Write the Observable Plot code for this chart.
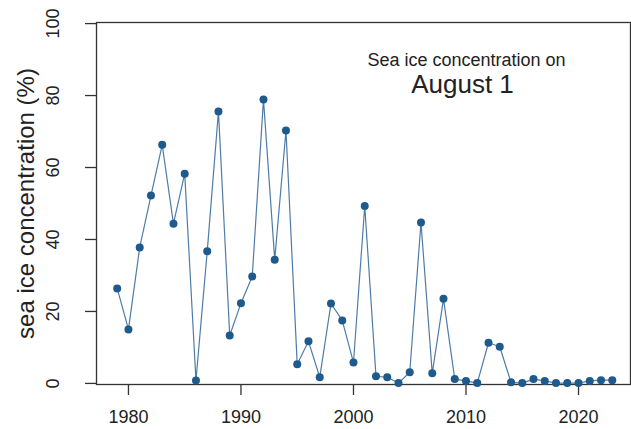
<!DOCTYPE html>
<html>
<head>
<meta charset="utf-8">
<script src="https://cdn.jsdelivr.net/npm/d3@7"></script>
<script src="https://cdn.jsdelivr.net/npm/@observablehq/plot@0.6"></script>
<style>
  html, body { margin: 0; padding: 0; background: #fff; }
  svg { display: block; }
</style>
</head>
<body>
<div id="chart"></div>
<script>
const years = [1979,1980,1981,1982,1983,1984,1985,1986,1987,1988,1989,1990,1991,1992,1993,1994,1995,1996,1997,1998,1999,2000,2001,2002,2003,2004,2005,2006,2007,2008,2009,2010,2011,2012,2013,2014,2015,2016,2017,2018,2019,2020,2021,2022,2023];
const concentration = [26.4,15.0,37.8,52.2,66.3,44.4,58.3,0.8,36.7,75.6,13.3,22.3,29.7,78.9,34.4,70.3,5.3,11.7,1.7,22.2,17.5,5.8,49.3,2.0,1.7,0.1,3.1,44.7,2.8,23.5,1.2,0.7,0.1,11.3,10.2,0.3,0.1,1.2,0.7,0.1,0.1,0.1,0.7,0.9,0.9];
const xTicks = [1980,1990,2000,2010,2020];
const yTicks = [0,20,40,60,80,100];
const yTitle = "sea ice concentration (%)";
const noteLine1 = "Sea ice concentration on";
const noteLine2 = "August 1";

const data = years.map((y, i) => ({year: y, value: concentration[i]}));
const font = "'Liberation Sans', Arial, Helvetica, sans-serif";

const chart = Plot.plot({
  width: 631,
  height: 429,
  marginLeft: 96,
  marginRight: 1,
  marginTop: 22,
  marginBottom: 45,
  style: {fontFamily: font, background: "#fff", color: "#222"},
  x: {domain: [1977.16, 2024.62]},
  y: {domain: [-0.3, 100.3]},
  marks: [
    Plot.frame({stroke: "#333", strokeWidth: 1.3}),
    Plot.axisX({ticks: xTicks, tickSize: 11, tickPadding: 15, fontSize: 18, tickFormat: d => String(d), label: null, stroke: "#333", strokeWidth: 1.3, fill: "#222"}),
    Plot.axisY({ticks: yTicks, tickSize: 11, tickFormat: () => "", label: null, stroke: "#333", strokeWidth: 1.3}),
    Plot.text(yTicks, {y: d => d, text: d => String(d), frameAnchor: "left", dx: -43, rotate: -90, textAnchor: "middle", lineAnchor: "middle", fontSize: 18, fill: "#222"}),
    Plot.text([yTitle], {text: d => d, frameAnchor: "left", dx: -70, rotate: -90, textAnchor: "middle", lineAnchor: "middle", fontSize: 24, fill: "#222"}),
    Plot.text([noteLine1], {text: d => d, frameAnchor: "top", dx: 103, dy: 43, textAnchor: "middle", lineAnchor: "bottom", fontSize: 18, fill: "#222"}),
    Plot.text([noteLine2], {text: d => d, frameAnchor: "top", dx: 99, dy: 70, textAnchor: "middle", lineAnchor: "bottom", fontSize: 26, fill: "#222"}),
    Plot.line(data, {x: "year", y: "value", stroke: "#4f7ca6", strokeWidth: 1.2}),
    Plot.dot(data, {x: "year", y: "value", r: 4, fill: "#1f5a8c", stroke: "none"})
  ]
});
document.getElementById("chart").appendChild(chart);
</script>
</body>
</html>
